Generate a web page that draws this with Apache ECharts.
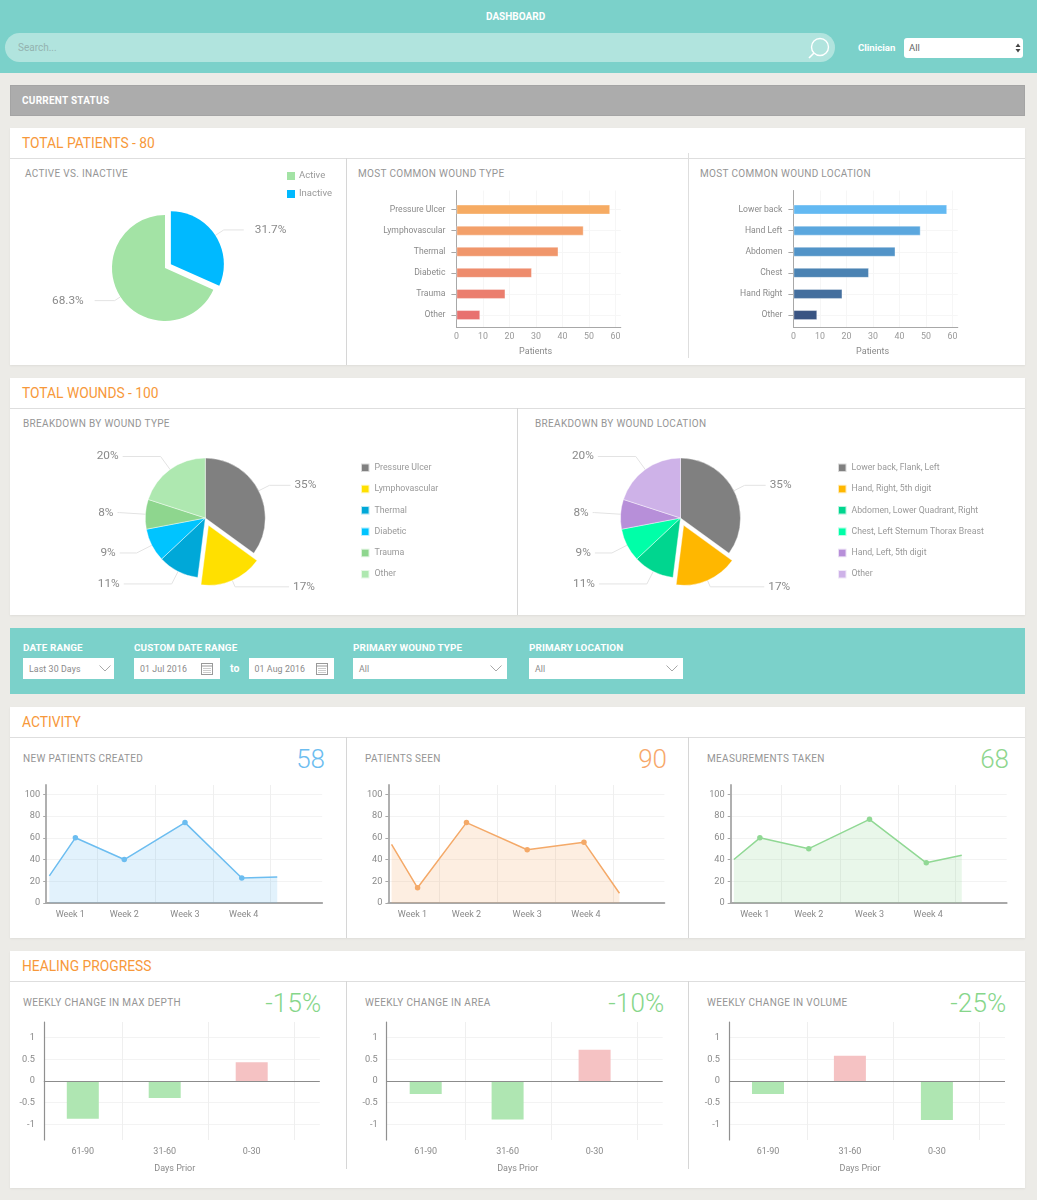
<!DOCTYPE html>
<html><head><meta charset="utf-8"><title>Dashboard</title>
<script src="https://cdn.jsdelivr.net/npm/echarts@6/dist/echarts.min.js"></script>
<style>
html,body{margin:0;padding:0;width:1037px;height:1200px;overflow:hidden;background:#ecebe7;font-family:Roboto,"Open Sans",sans-serif}
#page{position:relative;width:1037px;height:1200px;overflow:hidden}
.box{position:absolute;box-sizing:border-box}
.box svg{display:block}
.t{position:absolute;white-space:nowrap;transform:translateY(-50%);line-height:1}
.card{background:#fff;box-shadow:0 1px 2px rgba(0,0,0,.06)}
.section{color:#f7983a;font-size:13.8px;font-weight:400}
.panel{color:#959595;font-size:10px;letter-spacing:.32px}
.field{color:#fff;font-size:9.9px;font-weight:700;letter-spacing:.1px}
.val{color:#8a8a8a;font-size:8.8px;letter-spacing:.1px}
.big{font-size:26px;font-weight:300}
.chart{position:absolute}
</style></head><body><div id="page"></div>
<script>
// ---------- Data ----------
const pieActiveNames = ['Inactive', 'Active'];
const pieActiveValues = [31.7, 68.3];
const woundTypeNames = ['Pressure Ulcer', 'Lymphovascular', 'Thermal', 'Diabetic', 'Trauma', 'Other'];
const woundLocationNames = ['Lower back, Flank, Left', 'Hand, Right, 5th digit', 'Abdomen, Lower Quadrant, Right', 'Chest, Left Sternum Thorax Breast', 'Hand, Left, 5th digit', 'Other'];
const breakdownValues = [35, 17, 11, 9, 8, 20];
const commonTypeNames = ['Pressure Ulcer', 'Lymphovascular', 'Thermal', 'Diabetic', 'Trauma', 'Other'];
const commonLocationNames = ['Lower back', 'Hand Left', 'Abdomen', 'Chest', 'Hand Right', 'Other'];
const commonValues = [58, 48, 38.5, 28.5, 18.5, 9];
const patientTicks = [0, 10, 20, 30, 40, 50, 60];
const activityDays = [0.4, 3.7, 9.9, 17.6, 24.8, 29.3];
const newPatients = [25, 60, 40, 74, 23, 24];
const patientsSeen = [54, 14, 74, 49, 56, 9];
const measurements = [40, 60, 50, 77, 37, 44];
const activityTicks = [0, 20, 40, 60, 80, 100];
const activityGridDays = [6.47, 13.85, 21.2, 28.47];
const weekLabelDays = [3.05, 9.9, 17.6, 25.05];
const weekLabels = ['Week 1', 'Week 2', 'Week 3', 'Week 4'];
const healSlots = [13, 40.3, 69.3];
const healSlotLabels = ['61-90', '31-60', '0-30'];
const healGridSlots = [26.1, 54.8, 83.4];
const healTicks = [-1, -0.5, 0, 0.5, 1];
const depthChange = [-0.87, -0.39, 0.43];
const areaChange = [-0.3, -0.89, 0.72];
const volumeChange = [-0.3, 0.58, -0.9];

// ---------- Styles ----------
const orangeRamp = ['#f6ab63', '#f3a06a', '#f0966b', '#ee8c6d', '#eb7e6e', '#e8716f'];
const blueRamp = ['#63b9f2', '#5ba7de', '#5294c8', '#4b83b3', '#446f9e', '#3a5583'];
const typeColors = ['#808080', '#ffe000', '#00a8d8', '#00c4ff', '#8ed68e', '#aee8b0'];
const locColors = ['#808080', '#ffb700', '#00d68f', '#00ffa8', '#b78fd9', '#ceb2e8'];
const labelColor = '#8a8a8a', axisColor = '#a8a8a8', gridColor = '#f3f3f3', font = 'Roboto';
const breakdownLeaders = [[12, 21], [7, 54], [14, 48], [17, 17], [26, 2], [16, 38]];

// ---------- Page chrome ----------
const page = document.getElementById('page');
function box(x, y, w, h, css, cls) {
  const d = document.createElement('div'); d.className = 'box ' + (cls || '');
  d.style.cssText = `left:${x}px;top:${y}px;width:${w}px;height:${h}px;${css || ''}`;
  page.appendChild(d); return d;
}
function text(x, y, s, cls, css) {
  const d = document.createElement('div'); d.className = 't ' + (cls || ''); d.textContent = s;
  d.style.cssText = `left:${x}px;top:${y}px;${css || ''}`;
  page.appendChild(d); return d;
}
function rtext(rx, y, s, cls, css) {
  const d = text(0, y, s, cls, css); d.style.left = 'auto'; d.style.right = (1037 - rx) + 'px'; return d;
}
function svg(x, y, w, h, inner) {
  const d = box(x, y, w, h);
  d.innerHTML = `<svg width="${w}" height="${h}" viewBox="0 0 ${w} ${h}" xmlns="http://www.w3.org/2000/svg">${inner}</svg>`;
}
const chevron = (x, y) => svg(x, y, 12, 7, '<path d="M0.5 0.5 L6 6 L11.5 0.5" fill="none" stroke="#a8a8a8" stroke-width="1"/>');
const calendar = (x, y) => svg(x, y, 12, 13, '<rect x="0.5" y="1.5" width="11" height="11" fill="none" stroke="#999"/><path d="M0.5 4H11.5" stroke="#999"/><path d="M2.5 6.5h7M2.5 8.5h7M2.5 10.5h7" stroke="#999" stroke-dasharray="1 1"/>');

// header
box(0, 0, 1037, 73, 'background:#7bd1ca');
text(486, 16.5, 'DASHBOARD', '', 'color:#fff;font-size:10px;font-weight:700');
box(5, 33, 830, 29, 'background:#b1e4de;border-radius:15px');
text(18, 48, 'Search...', '', 'color:#94b3b0;font-size:10px');
svg(806, 35, 26, 26, '<circle cx="14" cy="12" r="8.5" fill="none" stroke="#fff" stroke-width="1.4"/><path d="M8 18 L3 23" stroke="#fff" stroke-width="1.6"/>');
text(858, 47.5, 'Clinician', '', 'color:#fff;font-size:9.6px;font-weight:700');
box(904, 38, 119, 20, 'background:#fff;border-radius:3px');
text(909, 47.5, 'All', '', 'color:#666;font-size:9.5px');
svg(1015, 43, 6, 10, '<path d="M3 0.5 L5.5 4 H0.5Z M3 9.5 L5.5 6 H0.5Z" fill="#444"/>');

// status bar
box(10, 85, 1015, 31, 'background:#acacac;border:1px solid #a4a4a4');
text(22, 100.5, 'CURRENT STATUS', '', 'color:#fff;font-size:10px;font-weight:700;letter-spacing:.25px');

// total patients
box(10, 128, 1015, 237, '', 'card');
text(22, 144, 'TOTAL PATIENTS - 80', 'section');
box(10, 158, 1015, 1, 'background:#dedede');
box(346, 158, 1, 207, 'background:#d6d6d6');
box(688, 153, 1, 205, 'background:#dedede');
text(25, 173.5, 'ACTIVE VS. INACTIVE', 'panel');
text(358, 173.5, 'MOST COMMON WOUND TYPE', 'panel');
text(700, 173.5, 'MOST COMMON WOUND LOCATION', 'panel');

// total wounds
box(10, 378, 1015, 237, '', 'card');
text(22, 394, 'TOTAL WOUNDS - 100', 'section');
box(10, 408, 1015, 1, 'background:#dedede');
box(517, 408, 1, 207, 'background:#d6d6d6');
text(23, 423.5, 'BREAKDOWN BY WOUND TYPE', 'panel');
text(535, 423.5, 'BREAKDOWN BY WOUND LOCATION', 'panel');

// filters
box(10, 628, 1015, 66, 'background:#7bd1ca');
text(23, 647.5, 'DATE RANGE', 'field');
text(134, 647.5, 'CUSTOM DATE RANGE', 'field');
text(353, 647.5, 'PRIMARY WOUND TYPE', 'field');
text(529, 647.5, 'PRIMARY LOCATION', 'field');
[[22.5, 91.5], [134, 85.5], [248.7, 85.5], [353, 154], [529, 153.5]].forEach(f => box(f[0], 658, f[1], 21, 'background:#fff'));
text(29, 669, 'Last 30 Days', 'val');
chevron(98.5, 665);
text(140, 669, '01 Jul 2016', 'val');
calendar(201, 662);
text(230, 669, 'to', 'field', 'font-size:10.5px');
text(254.5, 669, '01 Aug 2016', 'val');
calendar(316, 662);
text(359, 669, 'All', 'val');
chevron(489.5, 665);
text(535, 669, 'All', 'val');
chevron(665.5, 665);

// activity
box(10, 707, 1015, 231, '', 'card');
text(22, 723, 'ACTIVITY', 'section');
box(10, 737, 1015, 1, 'background:#dedede');
box(346, 737, 1, 201, 'background:#d6d6d6');
box(688, 737, 1, 201, 'background:#d6d6d6');
text(23, 758.5, 'NEW PATIENTS CREATED', 'panel');
text(365, 758.5, 'PATIENTS SEEN', 'panel');
text(707, 758.5, 'MEASUREMENTS TAKEN', 'panel');
rtext(325, 758.5, '58', 'big', 'color:#6cbdf0');
rtext(667, 758.5, '90', 'big', 'color:#f7a86a');
rtext(1009, 758.5, '68', 'big', 'color:#8ed68e');

// healing
box(10, 951, 1015, 237, '', 'card');
text(22, 967, 'HEALING PROGRESS', 'section');
box(10, 981, 1015, 1, 'background:#dedede');
box(346, 981, 1, 188, 'background:#d6d6d6');
box(688, 981, 1, 188, 'background:#d6d6d6');
text(23, 1002.5, 'WEEKLY CHANGE IN MAX DEPTH', 'panel');
text(365, 1002.5, 'WEEKLY CHANGE IN AREA', 'panel');
text(707, 1002.5, 'WEEKLY CHANGE IN VOLUME', 'panel');
rtext(321.5, 1002.5, '-15%', 'big', 'color:#86d68a;letter-spacing:.2px');
rtext(664.5, 1002.5, '-10%', 'big', 'color:#86d68a;letter-spacing:.2px');
rtext(1006.5, 1002.5, '-25%', 'big', 'color:#86d68a;letter-spacing:.2px');

// ---------- Charts ----------
function mount(x, y, w, h, option) {
  const d = document.createElement('div'); d.className = 'chart';
  d.style.cssText = `left:${x}px;top:${y}px;width:${w}px;height:${h}px`;
  page.appendChild(d);
  const c = echarts.init(d, null, { renderer: 'canvas' });
  c.setOption(Object.assign({ animation: false, textStyle: { fontFamily: font } }, option));
  return c;
}
const pctLabel = { show: true, formatter: '{c}%', color: labelColor, fontSize: 11.8, fontFamily: font, distanceToLabelLine: 4 };

// Active vs inactive pie
mount(12, 160, 332, 204, {
  legend: { orient: 'vertical', left: 270, top: 6, itemWidth: 8, itemHeight: 8, itemGap: 8, icon: 'rect', selectedMode: false,
    data: ['Active', 'Inactive'], textStyle: { color: '#999', fontSize: 9.5, padding: [0, 0, 0, -1] } },
  series: [{ type: 'pie', center: [153, 108], radius: 53, startAngle: 90, avoidLabelOverlap: false, selectedMode: 'single', selectedOffset: 7,
    label: Object.assign({}, pctLabel, { distanceToLabelLine: 11 }), labelLine: { lineStyle: { color: '#e3e3e3', width: 1 } },
    data: pieActiveNames.map((n, i) => ({ name: n, value: pieActiveValues[i], selected: i === 0,
      itemStyle: { color: ['#00b9ff', '#a3e3a5'][i] },
      labelLine: { length: [10, 7][i], length2: 20 } })) }]
});

function breakdownPie(x, w, names, values, colors, cx, legendLeft, legendFont) {
  mount(x, 410, w, 204, {
    legend: { orient: 'vertical', left: legendLeft, top: 47.5, itemWidth: 8.5, itemHeight: 8.5, itemGap: 10.8, icon: 'rect', selectedMode: false,
      data: names, textStyle: { color: '#999', fontSize: legendFont } },
    series: [{ type: 'pie', center: [cx, 108], radius: 60, startAngle: 90, avoidLabelOverlap: false, selectedMode: 'single', selectedOffset: 8,
      label: pctLabel, labelLine: { lineStyle: { color: '#e3e3e3', width: 1 } },
      itemStyle: { borderColor: 'rgba(255,255,255,.7)', borderWidth: 0.6 },
      data: names.map((n, i) => ({ name: n, value: values[i], selected: i === 1, itemStyle: { color: colors[i] },
        labelLine: { length: breakdownLeaders[i][0], length2: breakdownLeaders[i][1] } })) }]
  });
}
breakdownPie(12, 503, woundTypeNames, breakdownValues, typeColors, 193.3, 343, 8.8);
breakdownPie(520, 503, woundLocationNames, breakdownValues, locColors, 160.5, 312, 8.7);

// Horizontal bars: an outer grid carries the long axes, an inner grid carries the bars.
function hbar(x, w, axisX, names, values, colors) {
  const ox = x, oy = 160, gl = axisX - ox, gw = 164.4;
  const catTop = 199 - oy, catH = 126.6;
  mount(ox, oy, w, 204, {
    grid: [{ left: gl, top: 190.5 - oy, width: gw, height: 136.5 }, { left: gl, top: catTop, width: gw, height: catH }],
    xAxis: [
      { gridIndex: 0, type: 'value', min: 0, max: 62, name: 'Patients', nameLocation: 'middle', nameGap: 20,
        nameTextStyle: { color: labelColor, fontSize: 9, padding: [0, 6, 0, 0] },
        axisLine: { show: true, lineStyle: { color: axisColor, width: 1 } },
        axisTick: { show: false, customValues: patientTicks },
        axisLabel: { customValues: patientTicks, color: '#999', fontSize: 8.8, margin: 5 },
        splitLine: { show: true, lineStyle: { color: '#f6f6f6' } } },
      { gridIndex: 1, type: 'value', min: 0, max: 62, show: false }
    ],
    yAxis: [
      { gridIndex: 0, type: 'category', data: [], axisLine: { show: true, lineStyle: { color: axisColor, width: 1 } }, axisTick: { show: false }, axisLabel: { show: false } },
      { gridIndex: 1, type: 'category', inverse: true, data: names,
        axisLine: { show: false }, axisTick: { show: true, alignWithLabel: true, length: 5, lineStyle: { color: axisColor } },
        axisLabel: { color: labelColor, fontSize: 8.6, margin: 11 },
        splitLine: { show: true, alignWithLabel: true, lineStyle: { color: '#f6f6f6' } } }
    ],
    series: [{ type: 'bar', xAxisIndex: 1, yAxisIndex: 1, barWidth: 10,
      data: values.map((v, i) => ({ value: v, itemStyle: { color: colors[i], borderColor: 'rgba(255,255,255,.35)', borderWidth: 1 } })) }]
  });
}
hbar(348, 338, 456.4, commonTypeNames, commonValues, orangeRamp);
hbar(690, 333, 793.4, commonLocationNames, commonValues, blueRamp);

// Activity lines
function activity(x, w, axisX, values, color) {
  const oy = 775;
  mount(x, oy, w, 160, {
    grid: { left: axisX - x, top: 785 - oy, width: 276, height: 118 },
    xAxis: { type: 'value', min: 0, max: 35,
      axisLine: { show: true, lineStyle: { color: axisColor, width: 1.8 } },
      axisTick: { show: false, customValues: activityGridDays },
      axisLabel: { customValues: weekLabelDays, color: labelColor, fontSize: 9, margin: 7,
        formatter: v => weekLabels[weekLabelDays.indexOf(v)] },
      splitLine: { show: true, lineStyle: { color: '#efefef' } } },
    yAxis: { type: 'value', min: 0, max: 108.6,
      axisLine: { show: true, lineStyle: { color: axisColor, width: 1.8 } },
      axisTick: { show: true, length: 3, customValues: activityTicks, lineStyle: { color: axisColor } },
      axisLabel: { customValues: activityTicks, color: labelColor, fontSize: 9.2, margin: 6, padding: [2, 0, 0, 0] },
      splitLine: { show: true, lineStyle: { color: gridColor } } },
    series: [{ type: 'line', smooth: false, showAllSymbol: true, symbol: 'circle',
      symbolSize: (v, p) => (p.dataIndex === 0 || p.dataIndex === values.length - 1) ? 0 : 5.5,
      lineStyle: { color, width: 1.5 }, itemStyle: { color }, areaStyle: { color, opacity: 0.2 },
      data: values.map((v, i) => [activityDays[i], v]) }]
  });
}
activity(12, 332, 46.2, newPatients, '#6cbdf0');
activity(348, 338, 388.4, patientsSeen, '#f4a968');
activity(690, 333, 730.7, measurements, '#90d894');

// Healing bars
function healing(x, w, axisX, values) {
  const oy = 1012;
  mount(x, oy, w, 170, {
    grid: { left: axisX - x, top: 1022 - oy, width: 276, height: 118 },
    xAxis: { type: 'value', min: 0, max: 92, name: 'Days Prior', nameLocation: 'middle', nameGap: 24.5,
      nameTextStyle: { color: labelColor, fontSize: 9, padding: [0, 14, 0, 0] },
      axisLine: { show: false, onZero: false }, axisTick: { show: false, customValues: healGridSlots },
      axisLabel: { customValues: healSlots, color: labelColor, fontSize: 9, margin: 7.5,
        formatter: v => healSlotLabels[healSlots.indexOf(v)] },
      splitLine: { show: true, lineStyle: { color: '#efefef' } } },
    yAxis: { type: 'value', min: -1.36, max: 1.36,
      axisLine: { show: true, lineStyle: { color: '#909090', width: 1.2 } },
      axisTick: { show: false, customValues: healTicks },
      axisLabel: { customValues: healTicks, color: labelColor, fontSize: 9.2, margin: 9, padding: [2, 0, 0, 0] },
      splitLine: { show: true, lineStyle: { color: gridColor } } },
    series: [{ type: 'bar', barWidth: 32, z: 3,
      data: values.map((v, i) => ({ value: [healSlots[i], v], itemStyle: { color: v < 0 ? '#afe6b2' : '#f5c2c3' } })),
      markLine: { silent: true, symbol: 'none', label: { show: false }, lineStyle: { color: '#8c8c8c', width: 1, type: 'solid' }, data: [{ yAxis: 0 }] } }]
  });
}
healing(12, 332, 43.8, depthChange);
healing(348, 338, 386.7, areaChange);
healing(690, 333, 729, volumeChange);
</script></body></html>
